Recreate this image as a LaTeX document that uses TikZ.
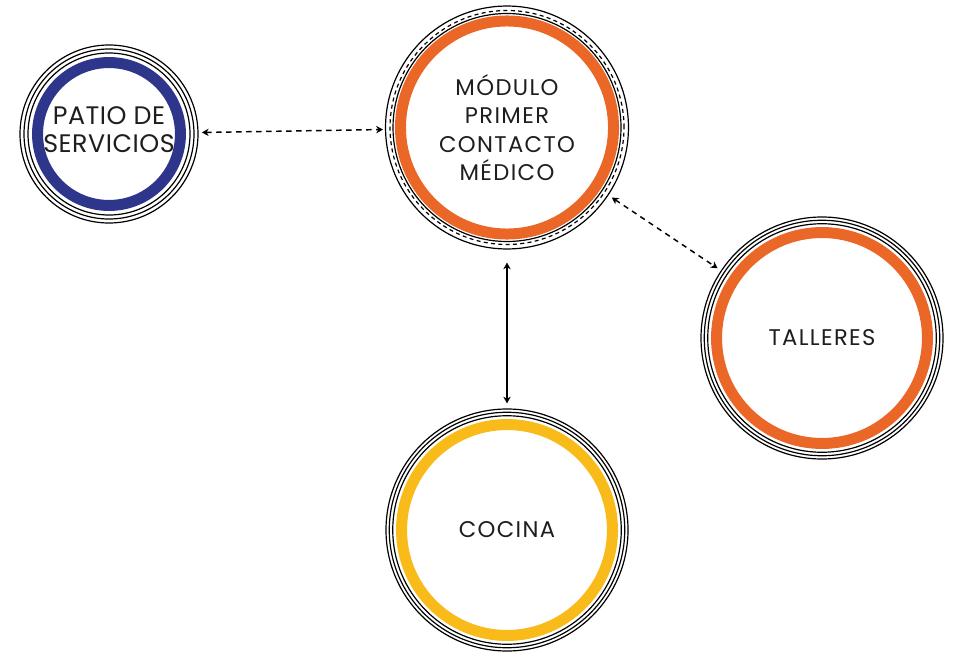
\documentclass[tikz,border=0pt]{standalone}
\usepackage{fontspec}
\setmainfont{Poppins}
\newfontfamily\lblfont[LetterSpace=6]{Poppins}
\newfontfamily\patfont[LetterSpace=2]{Poppins}
\usetikzlibrary{arrows.meta}
\definecolor{ringorange}{RGB}{234,103,40}
\definecolor{ringblue}{RGB}{46,54,140}
\definecolor{ringyellow}{RGB}{248,187,25}
\definecolor{txt}{RGB}{30,30,30}
\tikzset{
  hub/.style={circle, draw=black, line width=0.9pt, inner sep=0pt, align=center,
    text=txt, font=\lblfont\fontsize{17}{21.4}\selectfont},
  thinring/.style={draw=black, line width=0.9pt},
  dashring/.style={draw=black, line width=0.9pt, dash pattern=on 3pt off 2.5pt},
  colring/.style={draw=#1, line width=8.25pt},
  link/.style={line width=1pt, {Stealth[length=5pt,width=5.5pt,inset=1.5pt]}-{Stealth[length=5pt,width=5.5pt,inset=1.5pt]}},
  dlink/.style={link, line width=1.1pt, dash pattern=on 4pt off 3.5pt}
}
\begin{document}
\begin{tikzpicture}[x=0.75pt,y=-0.75pt]
\useasboundingbox (0,0) rectangle (955,656);
% Modulo
\node[hub, minimum size=182.2pt] (mod) at (507,127.5) {MÓDULO\\PRIMER\\CONTACTO\\MÉDICO};
\draw[dashring] (mod.center) circle[radius=87.75pt];
\draw[thinring] (mod.center) circle[radius=85.5pt];
\draw[colring=ringorange] (mod.center) circle[radius=79.9pt];
% Patio
\node[hub, minimum size=133.5pt] (pat) at (109,134) {};
\node[text=txt, align=center, font=\patfont\fontsize{19}{21}\selectfont] (pattxt) at (109,130) {PATIO DE\\SERVICIOS};
\draw[thinring] (pat.center) circle[radius=63.75pt];
\draw[thinring] (pat.center) circle[radius=60.75pt];
\draw[colring=ringblue] (pat.center) circle[radius=53.6pt];
% Talleres
\node[hub, minimum size=181.5pt] (tal) at (822,338) {TALLERES};
\draw[thinring] (tal.center) circle[radius=88.3pt];
\draw[thinring] (tal.center) circle[radius=85.7pt];
\draw[colring=ringorange] (tal.center) circle[radius=79.1pt];
% Cocina
\node[hub, minimum size=181.5pt] (coc) at (507,530) {COCINA};
\draw[thinring] (coc.center) circle[radius=88.3pt];
\draw[thinring] (coc.center) circle[radius=85.7pt];
\draw[colring=ringyellow] (coc.center) circle[radius=79.1pt];
% connectors
\draw[dlink, shorten <=2.5pt, shorten >=1.5pt] (pat) -- (mod);
\draw[dlink, shorten <=3pt, shorten >=3pt] (mod) -- (tal);
\draw[link, shorten <=9.75pt, shorten >=3.75pt] (mod) -- (coc);
\end{tikzpicture}
\end{document}
